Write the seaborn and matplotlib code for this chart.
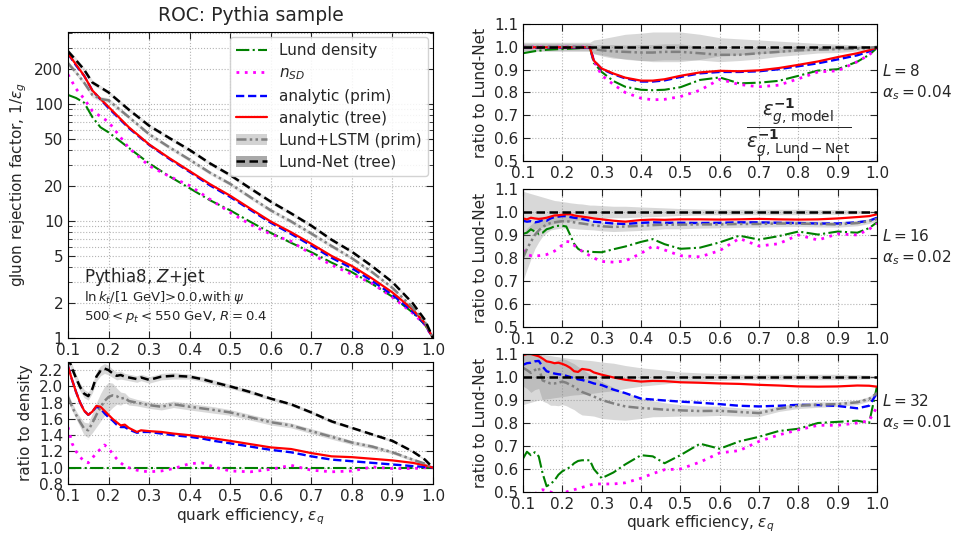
import matplotlib
matplotlib.use("Agg")
import matplotlib.pyplot as plt
import seaborn as sns
from matplotlib.lines import Line2D
from matplotlib.patches import Patch
from matplotlib.ticker import (FixedLocator, FixedFormatter, LogLocator,
                               NullFormatter, MultipleLocator, FormatStrFormatter)

# ==================== data ====================

# ROC curves, 1/eps_g vs eps_q
roc_eps = [0.10, 0.12, 0.14, 0.16, 0.18, 0.20, 0.25, 0.30, 0.35, 0.40, 0.45, 0.50,
           0.55, 0.60, 0.65, 0.70, 0.75, 0.80, 0.85, 0.90, 0.95, 0.98, 1.00]
roc_lund = [119, 112, 102, 77, 63, 57, 42, 31, 24, 19, 15, 12.3,
            9.8, 7.9, 6.5, 5.4, 4.4, 3.65, 2.9, 2.25, 1.65, 1.3, 1.0]
roc_nsd = [178, 134, 110, 87, 78, 70, 42, 29.5, 24, 20, 15.3, 11.8,
           9.3, 7.7, 6.7, 5.2, 4.2, 3.5, 2.93, 2.23, 1.63, 1.3, 1.0]
roc_prim = [268, 212, 173, 130, 109, 92, 62, 44.6, 33.8, 26.2, 20.1, 16.0,
            12.4, 9.64, 7.75, 6.15, 4.84, 3.94, 3.07, 2.34, 1.68, 1.31, 1.0]
roc_tree = [268, 216, 173, 130, 110, 94, 63, 45, 34.3, 26.6, 20.6, 16.4,
            12.7, 9.87, 8.0, 6.37, 5.02, 4.12, 3.22, 2.45, 1.75, 1.34, 1.0]
roc_lstm = [222, 185, 151, 119, 110, 107, 77, 55, 42.5, 33.3, 25.8, 20.7,
            15.9, 12.3, 9.9, 7.8, 6.1, 4.8, 3.65, 2.68, 1.82, 1.37, 1.0]
roc_net = [281, 235, 195, 152, 138, 125, 89, 65, 51, 40.3, 31, 24.6,
           18.9, 14.6, 11.6, 9.1, 6.9, 5.45, 4.1, 3.0, 1.98, 1.43, 1.0]
# relative half-width of the uncertainty bands
roc_lstm_rel = [0.05, 0.05, 0.05, 0.05, 0.05, 0.05, 0.04, 0.04, 0.04, 0.04, 0.04, 0.04,
                0.04, 0.04, 0.04, 0.04, 0.04, 0.035, 0.035, 0.03, 0.025, 0.02, 0.0]
roc_net_rel = [0.05, 0.05, 0.05, 0.05, 0.04, 0.04, 0.04, 0.04, 0.04, 0.04, 0.04, 0.04,
               0.04, 0.04, 0.04, 0.04, 0.04, 0.035, 0.035, 0.03, 0.025, 0.02, 0.0]

# common efficiency grid of the ratio panels
eps = [0.10, 0.11, 0.12, 0.13, 0.14, 0.15, 0.16, 0.17, 0.18, 0.19,
       0.20, 0.21, 0.22, 0.23, 0.24, 0.25, 0.27, 0.28, 0.30,
       0.33, 0.36, 0.40, 0.43, 0.46,
       0.50, 0.55, 0.60, 0.65, 0.70, 0.75, 0.80, 0.85, 0.90, 0.95, 0.98, 1.00]

# ratio to Lund density
dens_lund = [1.0] * 36
dens_nsd = [1.50, 1.30, 1.20, 1.13, 1.08, 1.06, 1.12, 1.18, 1.23, 1.28,
            1.24, 1.17, 1.11, 1.06, 1.02, 1.00, 0.97, 0.96, 0.95,
            0.96, 0.99, 1.05, 1.06, 1.01,
            0.96, 0.95, 0.98, 1.03, 0.97, 0.95, 0.96, 1.01, 0.99, 0.99, 1.00, 1.00]
dens_prim = [2.25, 2.08, 1.93, 1.80, 1.70, 1.65, 1.69, 1.75, 1.73, 1.67,
             1.62, 1.58, 1.53, 1.50, 1.50, 1.47, 1.43, 1.44, 1.44,
             1.42, 1.40, 1.38, 1.36, 1.33,
             1.30, 1.26, 1.22, 1.19, 1.14, 1.10, 1.08, 1.06, 1.04, 1.02, 1.01, 1.00]
dens_tree = [2.25, 2.08, 1.93, 1.80, 1.70, 1.65, 1.69, 1.76, 1.75, 1.70,
             1.65, 1.60, 1.56, 1.52, 1.53, 1.49, 1.44, 1.46, 1.45,
             1.44, 1.42, 1.40, 1.38, 1.36,
             1.33, 1.29, 1.25, 1.23, 1.18, 1.14, 1.13, 1.11, 1.09, 1.06, 1.03, 1.00]
dens_lstm = [1.87, 1.75, 1.65, 1.56, 1.48, 1.46, 1.55, 1.65, 1.74, 1.82,
             1.87, 1.89, 1.88, 1.85, 1.86, 1.82, 1.80, 1.79, 1.77,
             1.75, 1.78, 1.75, 1.73, 1.71,
             1.68, 1.62, 1.56, 1.52, 1.45, 1.38, 1.31, 1.26, 1.19, 1.10, 1.05, 1.00]
dens_net = [2.36, 2.22, 2.10, 1.99, 1.91, 1.88, 1.97, 2.12, 2.19, 2.22,
            2.20, 2.16, 2.13, 2.14, 2.12, 2.11, 2.09, 2.11, 2.08,
            2.12, 2.13, 2.12, 2.09, 2.05,
            2.00, 1.93, 1.85, 1.78, 1.68, 1.57, 1.49, 1.41, 1.33, 1.20, 1.10, 1.00]
dens_lstm_err = [0.05, 0.05, 0.05, 0.06, 0.08, 0.09, 0.12, 0.15, 0.17, 0.18,
                 0.18, 0.15, 0.10, 0.08, 0.06, 0.05, 0.04, 0.04, 0.04,
                 0.04, 0.04, 0.04, 0.04, 0.04,
                 0.035, 0.035, 0.035, 0.03, 0.03, 0.03, 0.025, 0.025, 0.02, 0.02, 0.015, 0.01]
dens_net_err = [0.05, 0.05, 0.05, 0.05, 0.05, 0.05, 0.05, 0.06, 0.06, 0.06,
                0.06, 0.05, 0.05, 0.05, 0.04, 0.04, 0.04, 0.04, 0.04,
                0.04, 0.04, 0.03, 0.03, 0.03,
                0.025, 0.025, 0.02, 0.02, 0.02, 0.02, 0.015, 0.015, 0.015, 0.01, 0.01, 0.005]

# ratio to Lund-Net, L = 8
p8_lund = [0.972, 0.975, 0.978, 0.981, 0.983, 0.985, 0.987, 0.988, 0.989, 0.990,
           0.990, 0.991, 0.992, 0.993, 0.994, 0.995, 0.997, 0.930, 0.890,
           0.850, 0.825, 0.812, 0.810, 0.812,
           0.823, 0.855, 0.866, 0.840, 0.843, 0.851, 0.873, 0.896, 0.902, 0.935, 0.965, 0.995]
p8_nsd = [0.999, 0.999, 0.999, 0.999, 0.999, 0.999, 0.999, 0.999, 0.999, 0.999,
          0.999, 0.999, 0.999, 0.999, 0.999, 0.999, 0.999, 0.940, 0.875,
          0.835, 0.800, 0.775, 0.768, 0.770,
          0.782, 0.810, 0.858, 0.835, 0.825, 0.832, 0.860, 0.890, 0.895, 0.935, 0.965, 0.995]
p8_prim = [0.997, 0.997, 0.997, 0.997, 0.997, 0.997, 0.997, 0.997, 0.997, 0.997,
           0.997, 0.997, 0.997, 0.997, 0.997, 0.997, 0.997, 0.940, 0.903,
           0.880, 0.862, 0.848, 0.848, 0.853,
           0.868, 0.884, 0.890, 0.890, 0.893, 0.902, 0.915, 0.928, 0.945, 0.963, 0.980, 0.998]
p8_tree = [0.998, 0.998, 0.998, 0.998, 0.998, 0.998, 0.998, 0.998, 0.998, 0.998,
           0.998, 0.998, 0.998, 0.998, 0.998, 0.998, 0.998, 0.940, 0.905,
           0.883, 0.865, 0.852, 0.852, 0.858,
           0.873, 0.888, 0.895, 0.893, 0.897, 0.907, 0.921, 0.936, 0.955, 0.972, 0.985, 0.998]
p8_lstm = [1.0, 1.0, 1.0, 1.0, 1.0, 1.0, 1.0, 1.0, 1.0, 1.0,
           1.0, 1.0, 1.0, 1.0, 1.0, 1.0, 1.0, 0.990, 0.985,
           0.980, 0.978, 0.975, 0.975, 0.978,
           0.978, 0.972, 0.965, 0.965, 0.972, 0.978, 0.985, 0.988, 0.990, 0.992, 0.995, 1.0]
p8_net = [1.0] * 36
p8_lstm_err = [0.015, 0.015, 0.015, 0.015, 0.015, 0.015, 0.015, 0.015, 0.015, 0.015,
               0.015, 0.015, 0.015, 0.015, 0.015, 0.015, 0.015, 0.020, 0.025,
               0.030, 0.030, 0.035, 0.035, 0.035,
               0.035, 0.030, 0.030, 0.025, 0.025, 0.020, 0.020, 0.015, 0.015, 0.010, 0.010, 0.005]
p8_net_err = [0.02, 0.02, 0.02, 0.02, 0.02, 0.02, 0.02, 0.02, 0.02, 0.02,
              0.02, 0.02, 0.02, 0.02, 0.02, 0.02, 0.02, 0.03, 0.035,
              0.045, 0.055, 0.06, 0.065, 0.065,
              0.065, 0.055, 0.04, 0.035, 0.03, 0.025, 0.02, 0.015, 0.012, 0.008, 0.005, 0.002]

# ratio to Lund-Net, L = 16
p16_lund = [0.905, 0.910, 0.925, 0.915, 0.905, 0.910, 0.925, 0.930, 0.938, 0.940,
            0.940, 0.937, 0.900, 0.862, 0.840, 0.830, 0.828, 0.826, 0.825,
            0.838, 0.850, 0.870, 0.882, 0.860,
            0.840, 0.845, 0.868, 0.897, 0.880, 0.895, 0.915, 0.902, 0.915, 0.910, 0.930, 0.955]
p16_nsd = [0.835, 0.815, 0.810, 0.810, 0.810, 0.812, 0.815, 0.822, 0.830, 0.842,
           0.857, 0.872, 0.870, 0.855, 0.843, 0.830, 0.810, 0.800, 0.785,
           0.782, 0.787, 0.820, 0.852, 0.835,
           0.810, 0.805, 0.832, 0.885, 0.852, 0.862, 0.900, 0.878, 0.905, 0.900, 0.925, 0.950]
p16_prim = [0.962, 0.958, 0.960, 0.955, 0.958, 0.965, 0.962, 0.972, 0.978, 0.980,
            0.982, 0.982, 0.978, 0.975, 0.973, 0.970, 0.962, 0.958, 0.955,
            0.950, 0.948, 0.953, 0.955, 0.953,
            0.953, 0.952, 0.953, 0.955, 0.955, 0.953, 0.952, 0.950, 0.950, 0.955, 0.962, 0.975]
p16_tree = [0.972, 0.968, 0.975, 0.972, 0.970, 0.972, 0.975, 0.980, 0.985, 0.986,
            0.988, 0.990, 0.990, 0.985, 0.982, 0.980, 0.975, 0.972, 0.968,
            0.962, 0.958, 0.965, 0.967, 0.966,
            0.968, 0.968, 0.967, 0.968, 0.970, 0.968, 0.967, 0.968, 0.972, 0.978, 0.982, 0.990]
p16_lstm = [0.800, 0.840, 0.870, 0.900, 0.920, 0.935, 0.945, 0.952, 0.955, 0.958,
            0.960, 0.960, 0.958, 0.955, 0.952, 0.950, 0.945, 0.942, 0.938,
            0.935, 0.937, 0.940, 0.943, 0.945,
            0.945, 0.946, 0.946, 0.948, 0.948, 0.950, 0.950, 0.948, 0.946, 0.952, 0.960, 0.970]
p16_net = [1.0] * 36
p16_lstm_err = [0.10, 0.09, 0.075, 0.06, 0.05, 0.04, 0.035, 0.03, 0.03, 0.03,
                0.03, 0.03, 0.028, 0.027, 0.026, 0.025, 0.022, 0.02, 0.02,
                0.02, 0.02, 0.02, 0.02, 0.018,
                0.018, 0.016, 0.015, 0.015, 0.014, 0.014, 0.013, 0.013, 0.012, 0.012, 0.01, 0.01]
p16_net_err = [0.09, 0.085, 0.08, 0.075, 0.07, 0.065, 0.06, 0.055, 0.05, 0.048,
               0.045, 0.043, 0.04, 0.038, 0.036, 0.035, 0.03, 0.03, 0.028,
               0.025, 0.025, 0.022, 0.02, 0.018,
               0.015, 0.013, 0.012, 0.012, 0.012, 0.012, 0.012, 0.01, 0.01, 0.008, 0.005, 0.003]

# ratio to Lund-Net, L = 32
p32_lund = [0.645, 0.675, 0.660, 0.673, 0.655, 0.580, 0.525, 0.535, 0.550, 0.575,
            0.590, 0.600, 0.608, 0.625, 0.635, 0.638, 0.638, 0.600, 0.560,
            0.585, 0.620, 0.660, 0.655, 0.625,
            0.660, 0.710, 0.688, 0.720, 0.740, 0.765, 0.775, 0.800, 0.805, 0.810, 0.800, 0.960]
p32_nsd = [0.440, 0.450, 0.470, 0.490, 0.505, 0.510, 0.505, 0.500, 0.495, 0.492,
           0.495, 0.500, 0.505, 0.510, 0.515, 0.520, 0.530, 0.535, 0.535,
           0.535, 0.540, 0.560, 0.580, 0.597,
           0.600, 0.630, 0.670, 0.680, 0.720, 0.748, 0.770, 0.790, 0.790, 0.800, 0.810, 0.870]
p32_prim = [1.053, 1.060, 1.062, 1.068, 1.070, 1.045, 1.025, 1.020, 1.015, 1.012,
            1.010, 1.005, 1.000, 0.995, 0.990, 0.987, 0.978, 0.972, 0.965,
            0.945, 0.930, 0.906, 0.902, 0.898,
            0.893, 0.888, 0.882, 0.875, 0.872, 0.875, 0.879, 0.878, 0.874, 0.864, 0.875, 0.930]
p32_tree = [1.095, 1.100, 1.100, 1.095, 1.090, 1.080, 1.068, 1.065, 1.060, 1.062,
            1.057, 1.050, 1.040, 1.025, 1.022, 1.035, 1.030, 1.020, 1.010,
            0.998, 0.988, 0.980, 0.983, 0.982,
            0.977, 0.975, 0.972, 0.970, 0.966, 0.963, 0.959, 0.958, 0.959, 0.963, 0.962, 0.958]
p32_lstm = [1.040, 1.030, 1.018, 1.030, 1.040, 0.985, 0.978, 0.972, 0.972, 0.975,
            0.980, 0.975, 0.966, 0.958, 0.945, 0.935, 0.922, 0.915, 0.900,
            0.885, 0.872, 0.865, 0.862, 0.858,
            0.855, 0.852, 0.853, 0.848, 0.843, 0.862, 0.875, 0.880, 0.882, 0.890, 0.905, 0.930]
p32_net = [1.0] * 36
p32_lstm_err = [0.08, 0.08, 0.085, 0.085, 0.09, 0.09, 0.09, 0.095, 0.095, 0.1,
                0.1, 0.1, 0.1, 0.1, 0.1, 0.1, 0.09, 0.085, 0.08,
                0.07, 0.06, 0.045, 0.035, 0.03,
                0.025, 0.022, 0.02, 0.018, 0.015, 0.012, 0.012, 0.012, 0.01, 0.01, 0.01, 0.01]
p32_net_err = [0.12, 0.115, 0.11, 0.105, 0.10, 0.098, 0.095, 0.093, 0.09, 0.088,
               0.085, 0.083, 0.08, 0.078, 0.077, 0.075, 0.072, 0.07, 0.065,
               0.06, 0.05, 0.04, 0.035, 0.03,
               0.022, 0.018, 0.015, 0.012, 0.012, 0.012, 0.012, 0.012, 0.012, 0.01, 0.008, 0.005]

# ==================== style ====================

sns.set_style("white", rc={
    "xtick.direction": "in", "ytick.direction": "in",
    "xtick.top": True, "ytick.right": True,
    "xtick.bottom": True, "ytick.left": True,
    "axes.edgecolor": "black", "axes.linewidth": 1.0,
})
plt.rcParams['font.family'] = ['DejaVu Sans']
plt.rcParams['mathtext.fontset'] = 'dejavusans'

STYLES = {
    "lund": dict(color="green", ls="-.", lw=1.5),
    "nsd":  dict(color="magenta", ls=(0, (1, 2)), lw=2.0),
    "prim": dict(color="blue", ls=(0, (3.5, 1.6)), lw=1.7),
    "tree": dict(color="red", ls="-", lw=1.6),
    "lstm": dict(color="gray", ls=(0, (4, 1.3, 1, 1.3, 1, 1.3)), lw=1.8),
    "net":  dict(color="black", ls=(0, (3.4, 1.8)), lw=1.8),
}
LABELS = {"lund": "Lund density", "nsd": r"$n_{SD}$", "prim": "analytic (prim)",
          "tree": "analytic (tree)", "lstm": "Lund+LSTM (prim)", "net": "Lund-Net (tree)"}
BAND = dict(color="gray", alpha=0.3, lw=0)
GRID = dict(ls=":", color="#b4b4b4", lw=0.8)
W, H = 955, 535


def px_axes(fig, left, top, right, bottom):
    return fig.add_axes([left / W, (H - bottom) / H, (right - left) / W, (bottom - top) / H])


def draw(ax, x, y, key):
    st = STYLES[key]
    sns.lineplot(x=x, y=y, ax=ax, color=st["color"], linestyle=st["ls"],
                 linewidth=st["lw"], errorbar=None, legend=False)


def band(ax, x, y, err, rel=False, **kw):
    lo = [v * (1 - e) if rel else v - e for v, e in zip(y, err)]
    hi = [v * (1 + e) if rel else v + e for v, e in zip(y, err)]
    ax.fill_between(x, lo, hi, **{**BAND, **kw})


def style_eps_axis(ax):
    ax.set_xlim(0.1, 1.0)
    ax.xaxis.set_major_locator(MultipleLocator(0.1))
    ax.xaxis.set_major_formatter(FormatStrFormatter("%.1f"))
    ax.tick_params(which="both", direction="in", top=True, right=True, labelsize=11)
    ax.tick_params(which="major", length=5)
    ax.tick_params(which="minor", length=3)
    ax.grid(True, which="major", **GRID)


fig = plt.figure(figsize=(W / 100, H / 100), dpi=100)

# ---------- ROC ----------
ax = px_axes(fig, 68, 32, 433, 338)
band(ax, roc_eps, roc_lstm, roc_lstm_rel, rel=True, alpha=0.2)
band(ax, roc_eps, roc_net, roc_net_rel, rel=True, alpha=0.2)
for key, ys in [("lund", roc_lund), ("nsd", roc_nsd), ("prim", roc_prim),
                ("tree", roc_tree), ("lstm", roc_lstm), ("net", roc_net)]:
    draw(ax, roc_eps, ys, key)
ax.set_yscale("log")
ax.set_ylim(1, 410)
style_eps_axis(ax)
ax.yaxis.set_major_locator(FixedLocator([1, 2, 5, 10, 20, 50, 100, 200]))
ax.yaxis.set_major_formatter(FixedFormatter(["1", "2", "5", "10", "20", "50", "100", "200"]))
ax.yaxis.set_minor_locator(LogLocator(base=10, subs=[2, 3, 4, 5, 6, 7, 8, 9]))
ax.yaxis.set_minor_formatter(NullFormatter())
ax.yaxis.grid(True, which="minor", **GRID)
ax.set_xlabel("")
ax.set_ylabel(r"gluon rejection factor, $1/\varepsilon_g$", fontsize=11)
ax.set_title("ROC: Pythia sample", fontsize=13.5, pad=8)
ax.text(0.045, 0.2, r"Pythia8, $Z$+jet", transform=ax.transAxes, fontsize=12, va="center")
ax.text(0.045, 0.132, r"$\ln k_t/[1\ \mathrm{GeV}]$>0.0,with $\psi$", transform=ax.transAxes,
        fontsize=9.5, va="center")
ax.text(0.045, 0.068, r"$500<p_t<550$ GeV, $R=0.4$", transform=ax.transAxes,
        fontsize=9.5, va="center")

handles = []
for key in ["lund", "nsd", "prim", "tree", "lstm", "net"]:
    st = STYLES[key]
    ln = Line2D([], [], color=st["color"], ls=st["ls"], lw=st["lw"])
    if key == "lstm":
        handles.append((Patch(facecolor="#d3d3d3", edgecolor="none"), ln))
    elif key == "net":
        handles.append((Patch(facecolor="#a9a9a9", edgecolor="none"), ln))
    else:
        handles.append(ln)
ax.legend(handles, [LABELS[k] for k in ["lund", "nsd", "prim", "tree", "lstm", "net"]],
          loc="upper right", fontsize=11, handlelength=2.0, borderaxespad=0.35,
          framealpha=0.85, edgecolor="#cccccc", labelspacing=0.45)

# ---------- ratio to density ----------
ax = px_axes(fig, 68, 362, 433, 484)
band(ax, eps, dens_lstm, dens_lstm_err)
band(ax, eps, dens_net, dens_net_err)
for key, ys in [("lund", dens_lund), ("nsd", dens_nsd), ("prim", dens_prim),
                ("tree", dens_tree), ("lstm", dens_lstm), ("net", dens_net)]:
    draw(ax, eps, ys, key)
style_eps_axis(ax)
ax.set_ylim(0.8, 2.3)
ax.yaxis.set_major_locator(MultipleLocator(0.2))
ax.yaxis.set_major_formatter(FormatStrFormatter("%.1f"))
ax.set_ylabel("ratio to density", fontsize=11)
ax.set_xlabel(r"quark efficiency, $\varepsilon_q$", fontsize=11, labelpad=2)

# ---------- ratio to Lund-Net ----------
panels = [
    (24, 161, "8", "0.04", p8_lund, p8_nsd, p8_prim, p8_tree, p8_lstm, p8_net, p8_lstm_err, p8_net_err),
    (189, 327, "16", "0.02", p16_lund, p16_nsd, p16_prim, p16_tree, p16_lstm, p16_net, p16_lstm_err, p16_net_err),
    (354, 492, "32", "0.01", p32_lund, p32_nsd, p32_prim, p32_tree, p32_lstm, p32_net, p32_lstm_err, p32_net_err),
]
for i, (top, bottom, L, alpha, lund, nsd, prim, tree, lstm, net, lstm_err, net_err) in enumerate(panels):
    ax = px_axes(fig, 523, top, 877, bottom)
    band(ax, eps, lstm, lstm_err)
    band(ax, eps, net, net_err)
    for key, ys in [("lund", lund), ("nsd", nsd), ("prim", prim),
                    ("tree", tree), ("lstm", lstm), ("net", net)]:
        draw(ax, eps, ys, key)
    style_eps_axis(ax)
    ax.set_ylim(0.5, 1.1)
    ax.yaxis.set_major_locator(MultipleLocator(0.1))
    ax.yaxis.set_major_formatter(FormatStrFormatter("%.1f"))
    ax.set_ylabel("ratio to Lund-Net", fontsize=11)
    ax.text(1.015, 0.575, rf"$L={L}$" + "\n" + rf"$\alpha_s={alpha}$",
            transform=ax.transAxes, fontsize=11, va="center", ha="left", linespacing=1.3)
    if i == 0:
        ax.text(0.80, 0.645,
                r"$\dfrac{\varepsilon_{g,\,\mathrm{model}}^{\mathbf{-1}}}"
                r"{\varepsilon_{g,\,\mathrm{Lund-Net}}^{\mathbf{-1}}}$",
                fontsize=14, ha="center", va="center")
    if i == 2:
        ax.set_xlabel(r"quark efficiency, $\varepsilon_q$", fontsize=11, labelpad=1)
    else:
        ax.set_xlabel("")

fig.savefig("out.png", dpi=100)
